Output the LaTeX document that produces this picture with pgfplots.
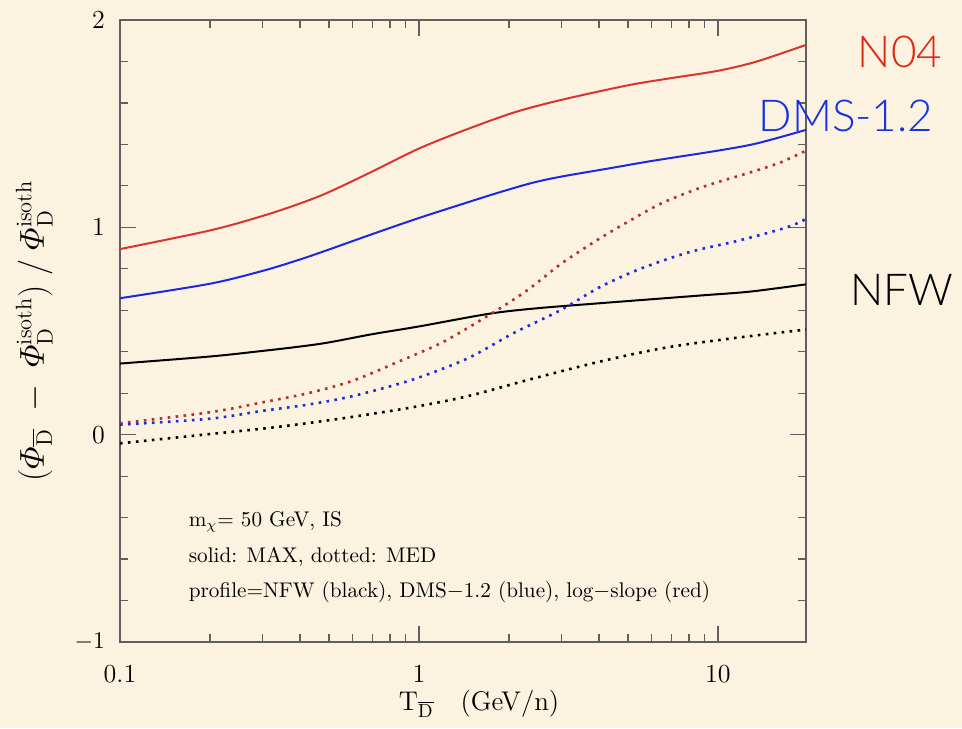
\documentclass[border=0pt]{standalone}
\usepackage{amsmath}
\usepackage{fontspec}
\usepackage{pgfplots}
\pgfplotsset{compat=1.18}
\newfontfamily\handfont{Lato Light}
\definecolor{parch}{RGB}{251,243,224}
\definecolor{cred}{RGB}{218,52,48}
\definecolor{cblue}{RGB}{30,40,228}
\definecolor{lred}{RGB}{222,40,20}
\definecolor{lblue}{RGB}{20,50,225}
\definecolor{axgray}{RGB}{95,95,95}
\newcommand{\Db}{\overline{\mathrm{D}}}
\begin{document}
\begin{tikzpicture}
\fill[parch] (-60pt,-43pt) rectangle (421pt,321pt);
\begin{axis}[
  scale only axis,
  width=343pt, height=311pt,
  xmode=log,
  xmin=0.1, xmax=19.7,
  ymin=-1, ymax=2,
  xtick={0.1,1,10},
  xticklabels={0.1,1,10},
  minor xtick={0.2,0.3,0.4,0.5,0.6,0.7,0.8,0.9,2,3,4,5,6,7,8,9},
  ytick={-1,0,1,2},
  yticklabels={$-1$,0,1,2},
  minor y tick num=4,
  tick align=inside,
  major tick length=8pt,
  minor tick length=4pt,
  axis line style={axgray, line width=0.7pt},
  every tick/.style={axgray, line width=0.6pt},
  tick label style={font=\fontsize{13}{15}\selectfont},
  xticklabel style={yshift=-8pt},
  yticklabel style={xshift=-4pt},
  every axis x label/.style={at={(axis description cs:0.5,-0.1)},anchor=center,xshift=8pt,font=\fontsize{13.5}{16}\selectfont},
  every axis y label/.style={at={(axis description cs:-0.125,0.5)},rotate=90,anchor=center,font=\fontsize{16}{18}\selectfont},
  xlabel={T$_{\Db}$\quad(GeV/n)},
  ylabel={$(\varPhi_{\Db} \;-\; \varPhi^{\mathrm{isoth}}_{\mathrm{D}})\;/\;\varPhi^{\mathrm{isoth}}_{\mathrm{D}}$},
  clip=false,
]
% solid: MAX
\addplot[cred, line width=1pt, smooth] coordinates {
(0.1,0.895) (0.2,0.985) (0.3,1.055) (0.4,1.115) (0.5,1.17) (0.7,1.27) (1.0,1.38)
(1.43,1.47) (2.09,1.555) (3.0,1.615) (5.0,1.685) (7.0,1.72) (10,1.755) (13.5,1.80) (19.7,1.88)
};
\addplot[cblue, line width=1pt, smooth] coordinates {
(0.1,0.658) (0.2,0.728) (0.3,0.79) (0.4,0.845) (0.5,0.893) (0.7,0.968) (1.0,1.045)
(1.45,1.12) (1.87,1.17) (2.4,1.215) (3.0,1.245) (4.35,1.285) (6.0,1.32) (10,1.37) (13.5,1.405) (19.7,1.47)
};
\addplot[black, line width=1pt, smooth] coordinates {
(0.1,0.343) (0.2,0.377) (0.3,0.404) (0.4,0.425) (0.5,0.445) (0.7,0.485) (1.0,0.522)
(1.73,0.584) (2.5,0.61) (4.03,0.634) (8.7,0.671) (12.8,0.69) (19.7,0.725)
};
% dotted: MED
\addplot[cred!85!black, line width=1.3pt, dash pattern=on 1.3pt off 2.7pt, smooth] coordinates {
(0.1,0.055) (0.2,0.108) (0.3,0.156) (0.426,0.2) (0.6,0.26) (0.86,0.354) (1.2,0.446)
(1.73,0.58) (2.3,0.696) (3.0,0.826) (4.03,0.947) (5.1,1.034) (6.5,1.117) (8.9,1.195) (12.5,1.26) (16,1.31) (19.7,1.37)
};
\addplot[cblue, line width=1.3pt, dash pattern=on 1.3pt off 2.7pt, smooth] coordinates {
(0.1,0.048) (0.2,0.077) (0.3,0.115) (0.426,0.145) (0.6,0.186) (0.95,0.265) (1.45,0.367)
(2.06,0.488) (2.97,0.6) (4.03,0.712) (5.5,0.8) (8.0,0.88) (11.8,0.937) (17,1.0) (19.7,1.04)
};
\addplot[black, line width=1.3pt, dash pattern=on 1.3pt off 2.7pt, smooth] coordinates {
(0.1,-0.042) (0.2,0.003) (0.3,0.029) (0.426,0.056) (0.6,0.086) (0.95,0.132) (1.45,0.185)
(2.4,0.27) (4.1,0.355) (6.7,0.42) (11.2,0.465) (19.7,0.507)
};
\node[anchor=west, font=\fontsize{10.6}{12}\selectfont] at (rel axis cs:0.09,0.193) {m$_\chi$= 50 GeV, IS};
\node[anchor=west, font=\fontsize{10.6}{12}\selectfont] at (rel axis cs:0.09,0.137) {solid: MAX, dotted: MED};
\node[anchor=west, font=\fontsize{10.6}{12}\selectfont] at (rel axis cs:0.09,0.080) {profile=NFW (black), DMS$-$1.2 (blue), log$-$slope (red)};
\node[lred, font=\handfont\fontsize{22}{24}\selectfont] at (axis cs:40.6,1.845) {N04};
\node[lblue, font=\handfont\fontsize{22}{24}\selectfont] at (axis cs:26.8,1.536) {DMS-1.2};
\node[black, font=\handfont\fontsize{22}{24}\selectfont] at (axis cs:41.2,0.696) {NFW};
\end{axis}
\pgfresetboundingbox
\path[use as bounding box] (-60pt,-43pt) rectangle (421pt,321pt);
\end{tikzpicture}
\end{document}
